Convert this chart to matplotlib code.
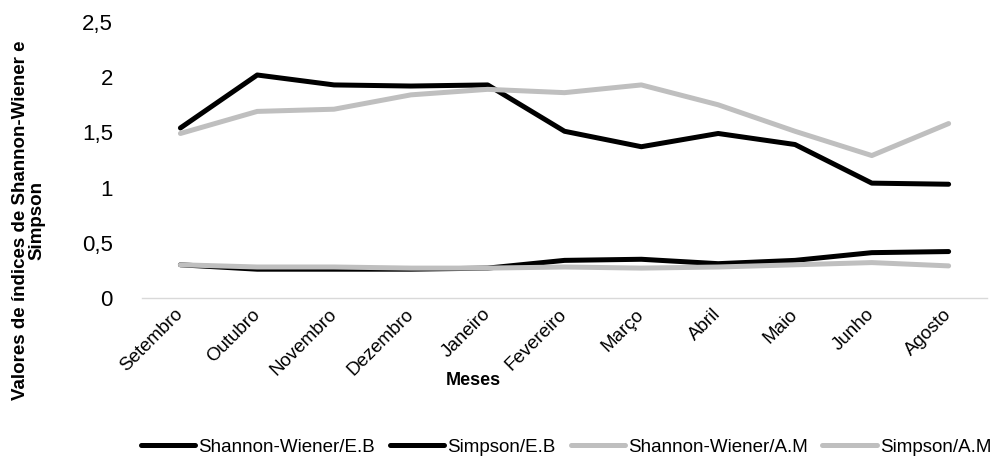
import matplotlib
matplotlib.use("Agg")
import matplotlib.pyplot as plt

months = ["Setembro", "Outubro", "Novembro", "Dezembro", "Janeiro", "Fevereiro",
          "Março", "Abril", "Maio", "Junho", "Agosto"]
shannon_eb = [1.54, 2.02, 1.93, 1.92, 1.93, 1.51, 1.37, 1.49, 1.39, 1.04, 1.03]
simpson_eb = [0.30, 0.26, 0.26, 0.26, 0.27, 0.34, 0.35, 0.31, 0.34, 0.41, 0.42]
shannon_am = [1.49, 1.69, 1.71, 1.84, 1.89, 1.86, 1.93, 1.75, 1.51, 1.29, 1.58]
simpson_am = [0.30, 0.28, 0.28, 0.27, 0.27, 0.28, 0.27, 0.28, 0.30, 0.32, 0.29]
yticks = [0, 0.5, 1, 1.5, 2, 2.5]
ytick_labels = ["0", "0,5", "1", "1,5", "2", "2,5"]

plt.rcParams['font.family'] = ['Liberation Sans', 'DejaVu Sans']

fig = plt.figure(figsize=(9.93, 4.59), dpi=100)
ax = fig.add_axes([0.143, 0.351, 0.851, 0.601])

x = list(range(len(months)))
black = "#000000"
gray = "#BFBFBF"
lw = 3.6
l1, = ax.plot(x, shannon_eb, color=black, lw=lw, label="Shannon-Wiener/E.B", solid_capstyle='round')
l2, = ax.plot(x, simpson_eb, color=black, lw=lw, label="Simpson/E.B", solid_capstyle='round')
l3, = ax.plot(x, shannon_am, color=gray, lw=lw, label="Shannon-Wiener/A.M", solid_capstyle='round')
l4, = ax.plot(x, simpson_am, color=gray, lw=lw, label="Simpson/A.M", solid_capstyle='round')

ax.set_xlim(-0.5, len(months) - 0.5)
ax.set_ylim(0, 2.5)
ax.set_yticks(yticks)
ax.set_yticklabels(ytick_labels, fontsize=16)
ax.tick_params(axis='y', length=0, pad=21)
ax.set_xticks(x)
ax.set_xticklabels(months, fontsize=13.5, rotation=45, ha='right', va='center',
                   rotation_mode='anchor')
ax.tick_params(axis='x', length=0, pad=10)

for s in ['top', 'right', 'left']:
    ax.spines[s].set_visible(False)
ax.spines['bottom'].set_color('#D9D9D9')
ax.spines['bottom'].set_linewidth(1.0)

fig.text(0.477, 0.17, "Meses", fontsize=13, fontweight='bold', ha='center', va='center')
fig.text(0.029, 0.52, "Valores de índices de Shannon-Wiener e\nSimpson", fontsize=13.5,
         fontweight='bold', rotation=90, ha='center', va='center', linespacing=0.9)

fig.legend(handles=[l1, l2, l3, l4], loc='center', bbox_to_anchor=(0.57, 0.026),
           ncol=4, frameon=False, fontsize=13.5, handlelength=2.9, handletextpad=0.15,
           columnspacing=0.8, borderpad=0.1)

fig.savefig("out.png", dpi=100)
